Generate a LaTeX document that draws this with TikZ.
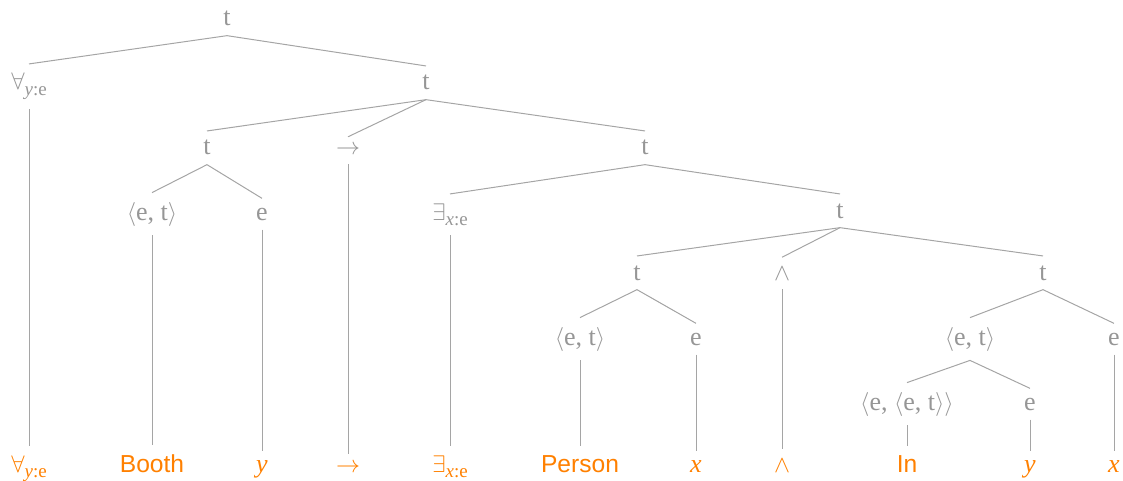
\documentclass[tikz,border=0pt]{standalone}
\usepackage{fontspec}
\setmainfont{Liberation Serif}
\setsansfont{Liberation Sans}
\definecolor{tgray}{RGB}{150,150,150}
\definecolor{lgray}{RGB}{165,165,165}
\definecolor{ora}{RGB}{255,128,0}
\newcommand\qsub[2]{$#1$\raisebox{-0.45ex}{\fontsize{9.5}{10}\selectfont\textit{#2}:e}}
\newcommand\ang[1]{$\langle$#1$\rangle$}
\begin{document}
\begin{tikzpicture}[x=0.5pt,y=-0.5pt,
  every node/.style={anchor=base, inner sep=4.5pt, font=\fontsize{13}{15}\selectfont, text=tgray},
  leaf/.style={text=ora},
  sansleaf/.style={text=ora, font=\fontsize{12.3}{15}\sffamily},
  edge/.style={draw=lgray, line width=0.5pt}]
\useasboundingbox (0,0) rectangle (1123,481);
% level 1
\node (r) at (227,26) {t};
% level 2
\node (fa) at (29,90) {\qsub{\forall}{y}};
\node (t2) at (426,90) {t};
% level 3
\node (t3a) at (207,155) {t};
\node (imp) at (348,155) {$\rightarrow$};
\node (t3b) at (645,155) {t};
% level 4
\node (et1) at (152,220) {\ang{e, t}};
\node (e1) at (262,220) {e};
\node (ex) at (450,220) {\qsub{\exists}{x}};
\node (t4) at (840,218) {t};
% level 5
\node (t5a) at (637,280) {t};
\node (and) at (782,280) {$\wedge$};
\node (t5b) at (1043,280) {t};
% level 6
\node (et2) at (580,345) {\ang{e, t}};
\node (e2) at (696,345) {e};
\node (et3) at (970,345) {\ang{e, t}};
\node (e3) at (1114,345) {e};
% level 7
\node (eet) at (907,410) {\ang{e, \ang{e, t}}};
\node (e4) at (1030,410) {e};
% leaves
\node[leaf] (l1) at (29,472) {\qsub{\forall}{y}};
\node[sansleaf] (l2) at (152,472) {Booth};
\node[leaf] (l3) at (262,472) {\textit{y}};
\node[leaf] (l4) at (348,472) {$\rightarrow$};
\node[leaf] (l5) at (450,472) {\qsub{\exists}{x}};
\node[sansleaf] (l6) at (580,472) {Person};
\node[leaf] (l7) at (696,472) {\textit{x}};
\node[leaf] (l8) at (782,472) {$\wedge$};
\node[sansleaf] (l9) at (907,472) {In};
\node[leaf] (l10) at (1030,472) {\textit{y}};
\node[leaf] (l11) at (1114,472) {\textit{x}};
% edges
\foreach \p/\c in {r/fa, r/t2, t2/t3a, t2/imp, t2/t3b, t3a/et1, t3a/e1,
  t3b/ex, t3b/t4, t4/t5a, t4/and, t4/t5b, t5a/et2, t5a/e2, t5b/et3, t5b/e3,
  et3/eet, et3/e4,
  fa/l1, et1/l2, e1/l3, imp/l4, ex/l5, et2/l6, e2/l7, and/l8, eet/l9, e4/l10, e3/l11}
  \draw[edge] (\p.south) -- (\c.north);
\end{tikzpicture}
\end{document}
